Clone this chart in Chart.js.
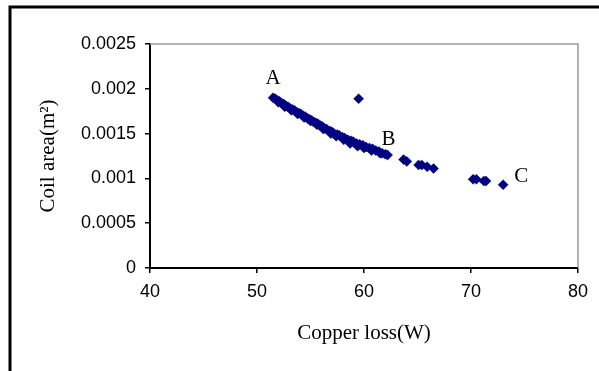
<!DOCTYPE html>
<html>
<head>
<meta charset="utf-8">
<script src="https://cdn.jsdelivr.net/npm/chart.js@4"></script>
<style>
  html, body { margin: 0; padding: 0; background: #fff; }
  canvas { display: block; }
</style>
</head>
<body>
<canvas id="chart" width="599" height="371"></canvas>
<script>
// copper loss (W) vs coil area (m^2)
const copperLoss = [
    51.5, 51.7, 51.9, 52.1, 52.3, 52.5, 52.7, 52.9, 53.1, 53.3,
    53.5, 53.7, 53.9, 54.1, 54.3, 54.5, 54.7, 54.9, 55.1, 55.3,
    55.5, 55.7, 55.9, 56.1, 56.3, 56.5, 56.8, 57.0, 57.2, 57.5,
    57.7, 58.0, 58.2, 58.5, 58.8, 59.0, 59.3, 59.6, 59.9, 60.2,
    60.5, 60.8, 61.1, 61.4, 61.7, 62.0, 62.2,
    52.0, 52.6, 53.2, 53.8, 54.4, 55.0, 55.6, 56.2, 56.9, 57.4, 58.1, 58.7, 59.4, 60.0, 60.7, 61.5,
    59.5, 63.7, 64.0, 65.1, 65.4, 65.9, 66.5, 70.2, 70.5, 71.2, 71.4, 73.0
];
const coilArea = [
    0.00190, 0.00189, 0.00187, 0.00186, 0.00184, 0.00183, 0.00181, 0.00180, 0.00178, 0.00177,
    0.00176, 0.00174, 0.00173, 0.00172, 0.00170, 0.00169, 0.00167, 0.00166, 0.00165, 0.00163,
    0.00162, 0.00161, 0.00159, 0.00158, 0.00156, 0.00155, 0.00153, 0.00152, 0.00150, 0.00149,
    0.00148, 0.00146, 0.00145, 0.00143, 0.00142, 0.00141, 0.00139, 0.00138, 0.00137, 0.00135,
    0.00134, 0.00133, 0.00131, 0.00130, 0.00128, 0.00127, 0.00126,
    0.00185, 0.00180, 0.00176, 0.00172, 0.00168, 0.00164, 0.00160, 0.00155, 0.00150, 0.00147, 0.00143, 0.00139, 0.00136, 0.00134, 0.00131, 0.00128,
    0.00189, 0.00121, 0.00119, 0.00115, 0.00115, 0.00113, 0.00111, 0.00099, 0.00099, 0.00097, 0.00097, 0.00093
];

const yTickValues = [0, 0.0005, 0.001, 0.0015, 0.002, 0.0025];
const yTickLabels = ['0', '0.0005', '0.001', '0.0015', '0.002', '0.0025'];

// point labels A / B / C, placed in data units
const markNames = ['A', 'B', 'C'];
const markX = [51.5, 62.3, 74.7];
const markY = [0.00211, 0.00143, 0.00102];

const SERIF = '"Liberation Serif", "Times New Roman", serif';
const SANS = '"Liberation Sans", Arial, sans-serif';

const frame = {
    id: 'frame',
    beforeDraw(chart) {
        const c = chart.ctx;
        c.save();
        c.fillStyle = '#fff';
        c.fillRect(0, 0, chart.width, chart.height);
        c.restore();
    },
    afterDraw(chart) {
        const c = chart.ctx;
        const a = chart.chartArea;
        c.save();
        // gray plot box (top + right)
        c.strokeStyle = '#9a9a9a';
        c.lineWidth = 1.5;
        c.beginPath();
        c.moveTo(a.left, a.top);
        c.lineTo(a.right, a.top);
        c.lineTo(a.right, a.bottom);
        c.stroke();
        // outer black frame, left + top
        c.strokeStyle = '#000';
        c.lineWidth = 3;
        c.beginPath();
        c.moveTo(10, chart.height);
        c.lineTo(10, 7);
        c.lineTo(chart.width, 7);
        c.stroke();
        // A/B/C
        const xs = chart.scales.x, ys = chart.scales.y;
        c.fillStyle = '#000';
        c.font = '21px ' + SERIF;
        c.textAlign = 'center';
        c.textBaseline = 'middle';
        markNames.forEach((m, i) => {
            c.fillText(m, xs.getPixelForValue(markX[i]), ys.getPixelForValue(markY[i]));
        });
        c.restore();
    }
};

new Chart(document.getElementById('chart'), {
    type: 'scatter',
    data: {
        datasets: [{
            data: copperLoss.map((x, i) => ({ x: x, y: coilArea[i] })),
            pointStyle: 'rectRot',
            pointRadius: 5,
            pointBackgroundColor: '#000080',
            pointBorderColor: '#000080',
            pointBorderWidth: 0.5
        }]
    },
    options: {
        responsive: false,
        animation: false,
        layout: { padding: { left: 0, top: 44, right: 21, bottom: 0 } },
        plugins: { legend: { display: false }, tooltip: { enabled: false } },
        scales: {
            x: {
                type: 'linear', min: 40, max: 80,
                ticks: { stepSize: 10, color: '#000', padding: 8, font: { family: SANS, size: 18 } },
                grid: { drawOnChartArea: false, drawTicks: true, tickLength: 5, color: '#000', lineWidth: 1.5 },
                border: { display: true, color: '#000', width: 2 },
                title: {
                    display: true, text: 'Copper loss(W)', color: '#000',
                    font: { family: SERIF, size: 21 }, padding: { top: 0, bottom: 25 }
                },
                afterFit(s) { s.height = 103; }
            },
            y: {
                type: 'linear', min: 0, max: 0.0025,
                afterBuildTicks(s) { s.ticks = yTickValues.map(v => ({ value: v })); },
                ticks: {
                    color: '#000', padding: 9, font: { family: SANS, size: 18 },
                    callback: (v) => yTickLabels[yTickValues.indexOf(v)]
                },
                grid: { drawOnChartArea: false, drawTicks: true, tickLength: 5, color: '#000', lineWidth: 1.5 },
                border: { display: true, color: '#000', width: 2 },
                title: {
                    display: true, text: 'Coil area(m²)', color: '#000',
                    font: { family: SERIF, size: 21 }, padding: { top: 36, bottom: 0 }
                },
                afterFit(s) { s.width = 150; }
            }
        }
    },
    plugins: [frame]
});
</script>
</body>
</html>
